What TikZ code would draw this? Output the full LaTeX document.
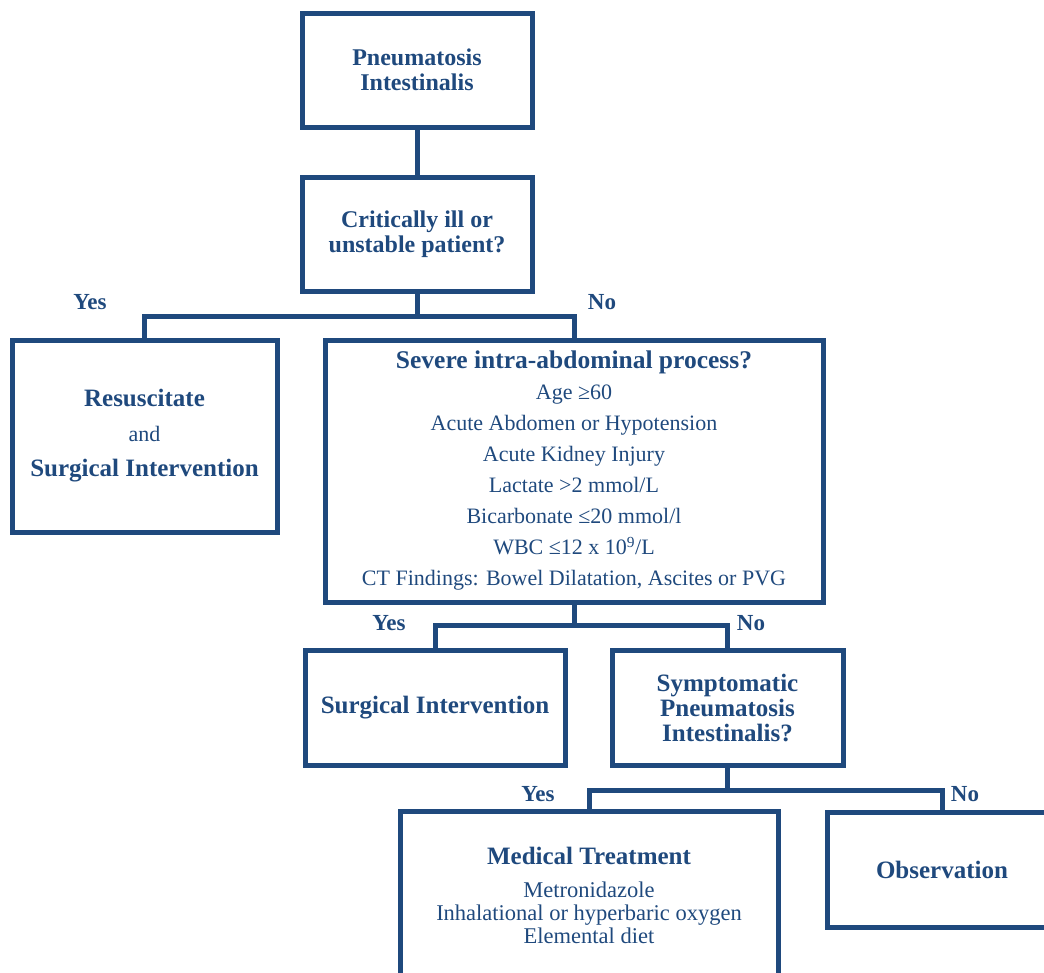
\documentclass[tikz,border=0pt]{standalone}
\usepackage{fontspec}
\setmainfont{Liberation Serif}
\usetikzlibrary{positioning}
\definecolor{FlowBlue}{RGB}{31,73,125}

\begin{document}
\begin{tikzpicture}[x=1pt, y=-1pt,
    box/.style={draw=FlowBlue, line width=5pt, text=FlowBlue, align=center, inner sep=0pt},
    link/.style={draw=FlowBlue, line width=5pt},
    answer/.style={text=FlowBlue, font=\fontsize{23}{24}\selectfont\bfseries}]
    \useasboundingbox (0,0) rectangle (1044,972);
    \clip (0,0) rectangle (1044,972);

    % top of the chart
    \node[box, minimum width=230, minimum height=114, font=\fontsize{24}{25}\selectfont\bfseries]
        (pneumo) at (417,70) {Pneumatosis\\Intestinalis};
    \node[box, minimum width=230, minimum height=114, font=\fontsize{24}{25}\selectfont\bfseries]
        (crit) at (417,234) {Critically ill or\\unstable patient?};
    \draw[link] (pneumo.south) -- (crit.south |- crit.north);

    % first split
    \node[box, minimum width=265, minimum height=192, font=\fontsize{22}{35}\selectfont]
        (resus) at (144.5,436) {{\fontsize{25}{35}\selectfont\bfseries Resuscitate}\\and\\
        {\fontsize{25}{35}\selectfont\bfseries Surgical Intervention}};
    \node[box, minimum width=498, minimum height=262, font=\fontsize{22}{31}\selectfont]
        (severe) at (574,471) {{\fontsize{25.5}{31}\selectfont\bfseries Severe intra-abdominal process?}\\
        Age ≥60\\Acute Abdomen or Hypotension\\Acute Kidney Injury\\Lactate >2 mmol/L\\
        Bicarbonate ≤20 mmol/l\\WBC ≤12 x 10\textsuperscript{9}/L\\
        CT Findings: Bowel Dilatation, Ascites or PVG};
    \coordinate (fork1) at (417,316);
    \draw[link] (crit.south) -- (fork1);
    \draw[link] (resus.north) |- (fork1) -| (severe.north);
    \node[answer] (yes1) at (90,302) {Yes};
    \node[answer] (no1) at (602,302) {No};

    % second split
    \node[box, minimum width=260, minimum height=115, font=\fontsize{25}{25}\selectfont\bfseries]
        (surg) at (435,707.5) {Surgical Intervention};
    \node[box, minimum width=231, minimum height=115, font=\fontsize{25}{25}\selectfont\bfseries]
        (sympt) at (727.5,707.5) {Symptomatic\\Pneumatosis\\Intestinalis?};
    \coordinate (fork2) at (574,625);
    \draw[link] (severe.south) -- (fork2);
    \draw[link] (surg.north) |- (fork2) -| (sympt.north);
    \node[answer] (yes2) at (389,623) {Yes};
    \node[answer] (no2) at (751,623) {No};

    % third split
    \node[box, minimum width=378, minimum height=168, font=\fontsize{22.5}{23}\selectfont]
        (medic) at (589,895) {{\fontsize{25}{23}\selectfont\bfseries Medical Treatment}\\[10pt]
        Metronidazole\\Inhalational or hyperbaric oxygen\\Elemental diet};
    \node[box, minimum width=230, minimum height=115, font=\fontsize{25}{25}\selectfont\bfseries]
        (obs) at (942,869.5) {Observation};
    \coordinate (fork3) at (727.5,790);
    \draw[link] (sympt.south) -- (fork3);
    \draw[link] (medic.north) |- (fork3) -| (obs.north);
    \node[answer] (yes3) at (538,794) {Yes};
    \node[answer] (no3) at (965,794) {No};
\end{tikzpicture}
\end{document}
